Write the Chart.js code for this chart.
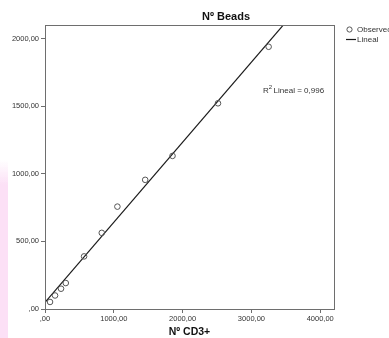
<!DOCTYPE html>
<html>
<head>
<meta charset="utf-8">
<script src="https://cdn.jsdelivr.net/npm/chart.js@4/dist/chart.umd.min.js"></script>
<style>
  html, body { margin: 0; padding: 0; background: #fff; }
  #wrap { position: relative; width: 389px; height: 338px; }
</style>
</head>
<body>
<div id="wrap"><canvas id="beadsChart" width="389" height="338"></canvas></div>
<script>
// --- Data ---
const cd3Values   = [73, 146, 233, 302, 568, 825, 1052, 1456, 1853, 2514, 3250];
const beadsValues = [52, 100, 150, 192, 389, 563, 757, 955, 1132, 1521, 1939];
const fitX = [0, 3700];
const fitY = [49, 2240];
const xTicks = [0, 1000, 2000, 3000, 4000];
const yTicks = [0, 500, 1000, 1500, 2000];
const chartTitle = 'Nº Beads';
const xTitle = 'Nº CD3+';
const r2Text = '0,996';

const FONT = '"Liberation Sans", Arial, sans-serif';
const TEXT = '#333333';
const BORDER = '#6e6e6e';

function fmt(v) {
    // SPSS style: ",00" decimals, no thousands separator
    return v === 0 ? ',00' : v + ',00';
}

// Frame, titles, R² note, legend and the faint pink strip at the left edge
const decorPlugin = {
    id: 'decor',
    beforeDraw(chart) {
        const ctx = chart.ctx;
        ctx.save();
        const g = ctx.createLinearGradient(0, 160, 0, 185);
        g.addColorStop(0, 'rgba(252,224,246,0)');
        g.addColorStop(1, 'rgba(252,224,246,1)');
        ctx.fillStyle = g;
        ctx.fillRect(0, 160, 8, 25);
        ctx.fillStyle = 'rgb(252,224,246)';
        ctx.fillRect(0, 185, 8, 153);
        ctx.restore();
    },
    afterDraw(chart) {
        const ctx = chart.ctx;
        const a = chart.chartArea;
        ctx.save();
        ctx.strokeStyle = BORDER;
        ctx.lineWidth = 1;
        ctx.strokeRect(Math.round(a.left) + 0.5, Math.round(a.top) + 0.5,
            Math.round(a.right - a.left), Math.round(a.bottom - a.top));

        // chart title
        ctx.fillStyle = '#111';
        ctx.textBaseline = 'middle';
        ctx.textAlign = 'center';
        ctx.font = 'bold 11px ' + FONT;
        ctx.fillText(chartTitle, 226, 17);

        // x axis title
        ctx.font = 'bold 10.5px ' + FONT;
        ctx.fillText(xTitle, (a.left + a.right) / 2, 332);

        // R² note
        ctx.fillStyle = TEXT;
        ctx.textAlign = 'left';
        ctx.font = '8px ' + FONT;
        let x = 263;
        ctx.fillText('R', x, 91);
        x += ctx.measureText('R').width;
        ctx.font = '6px ' + FONT;
        ctx.fillText('2', x, 87);
        x += ctx.measureText('2').width + 1.5;
        ctx.font = '8px ' + FONT;
        ctx.fillText('Lineal = ' + r2Text, x, 91);

        // legend
        const ds = chart.data.datasets;
        ctx.font = '8px ' + FONT;
        ctx.strokeStyle = ds[0].borderColor;
        ctx.beginPath();
        ctx.arc(349.5, 29.5, 2.6, 0, Math.PI * 2);
        ctx.stroke();
        ctx.fillText(ds[0].label, 357, 30);
        ctx.strokeStyle = ds[1].borderColor;
        ctx.lineWidth = 1.2;
        ctx.beginPath();
        ctx.moveTo(346, 39.5);
        ctx.lineTo(356, 39.5);
        ctx.stroke();
        ctx.fillText(ds[1].label, 357, 40);
        ctx.restore();
    }
};

const tickFont = { family: FONT, size: 7.5 };

new Chart(document.getElementById('beadsChart'), {
    type: 'scatter',
    data: {
        datasets: [
            {
                label: 'Observed',
                data: cd3Values.map((v, i) => ({ x: v, y: beadsValues[i] })),
                pointStyle: 'circle',
                pointRadius: 2.8,
                borderColor: '#555555',
                backgroundColor: 'rgba(255,255,255,0)',
                borderWidth: 1
            },
            {
                label: 'Lineal',
                data: fitX.map((v, i) => ({ x: v, y: fitY[i] })),
                showLine: true,
                pointRadius: 0,
                borderColor: '#1a1a1a',
                borderWidth: 1.2
            }
        ]
    },
    options: {
        responsive: false,
        animation: false,
        devicePixelRatio: 1,
        layout: { padding: { top: 25, right: 55, left: 0, bottom: 0 } },
        plugins: {
            legend: { display: false },
            tooltip: { enabled: false }
        },
        scales: {
            x: {
                type: 'linear',
                min: 0,
                max: 4200,
                afterBuildTicks: s => { s.ticks = xTicks.map(v => ({ value: v })); },
                afterFit: s => { s.height = 29; },
                grid: { drawOnChartArea: false, drawTicks: true, tickLength: 4, color: BORDER },
                border: { display: true, color: BORDER },
                ticks: { font: tickFont, color: TEXT, padding: 1, maxRotation: 0, callback: v => fmt(v) }
            },
            y: {
                type: 'linear',
                min: 0,
                max: 2100,
                afterBuildTicks: s => { s.ticks = yTicks.map(v => ({ value: v })); },
                afterFit: s => { s.width = 45; },
                grid: { drawOnChartArea: false, drawTicks: true, tickLength: 4, color: BORDER },
                border: { display: true, color: BORDER },
                ticks: { font: tickFont, color: TEXT, padding: 2, callback: v => fmt(v) }
            }
        }
    },
    plugins: [decorPlugin]
});
</script>
</body>
</html>
